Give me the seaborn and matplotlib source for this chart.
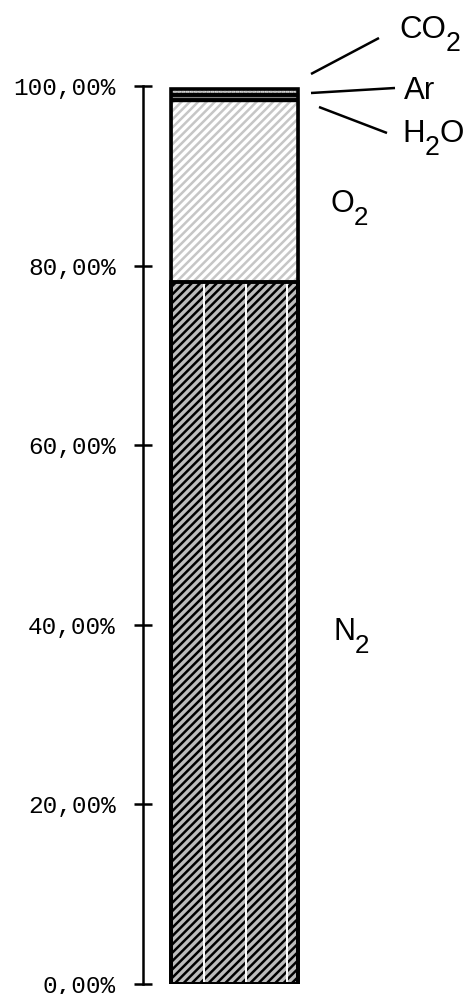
import matplotlib
matplotlib.use("Agg")
import matplotlib.pyplot as plt
import seaborn as sns
import numpy as np
import pandas as pd
from matplotlib.patches import Rectangle

# ---- data ----
gases = ["N2", "O2", "H2O", "Ar", "CO2"]
shares = [78.2, 20.1, 0.45, 0.45, 0.5]
category = ["Luft"]
tick_values = [0, 20, 40, 60, 80, 100]
tick_labels = ["0,00%", "20,00%", "40,00%", "60,00%", "80,00%", "100,00%"]

# ---- styles ----
face_colors = {"N2": "#bcbcbc", "O2": "#ffffff", "H2O": "#000000", "Ar": "#000000", "CO2": "#9a9a9a"}
hatch_colors = {"N2": "#000000", "O2": "#c6c6c6", "H2O": "#000000", "Ar": "#000000", "CO2": "#e4e4e4"}
hatches = {"N2": "////", "O2": "////", "H2O": None, "Ar": None, "CO2": "...."}
outline_lw = {"N2": 2.8, "O2": 1.0, "H2O": 0.8, "Ar": 1.0, "CO2": 2.6}
outline_col = {"N2": "black", "O2": "black", "H2O": "#808080", "Ar": "black", "CO2": "black"}

sns.set_style("white")
plt.rcParams["font.family"] = ["Liberation Sans", "DejaVu Sans"]
plt.rcParams["text.color"] = "black"
plt.rcParams["hatch.linewidth"] = 1.8

W, H = 472, 994
fig = plt.figure(figsize=(W / 100, H / 100), dpi=100)
ax = fig.add_axes([143 / W, (H - 984) / H, (W - 143) / W, (984 - 86) / H])

cum = np.cumsum(shares)
df = pd.DataFrame({"gas": gases, "share": shares, "top": cum})

bar_width = 0.8
layer_patches = {}
for gas, top in zip(df["gas"][::-1], df["top"][::-1]):
    n_before = len(ax.patches)
    sns.barplot(x=category, y=[top], color=face_colors[gas], saturation=1,
                width=bar_width, ax=ax)
    p = ax.patches[n_before]
    p.set_facecolor(face_colors[gas])
    p.set_edgecolor(hatch_colors[gas])
    p.set_linewidth(0)
    if hatches[gas]:
        p.set_hatch(hatches[gas])
    layer_patches[gas] = p

# white seams inside the N2 block
n2 = layer_patches["N2"]
bx, bw = n2.get_x(), n2.get_width()
ax.vlines([bx + bw * f for f in (0.26, 0.59, 0.915)], 0, df["top"].iloc[0],
          colors="white", linewidth=1.4, zorder=3)

# outlines: thin internal ones first, thick ones last
for gas in ["H2O", "Ar", "O2", "N2", "CO2"]:
    p = layer_patches[gas]
    ax.add_patch(Rectangle((p.get_x(), p.get_y()), p.get_width(), p.get_height(),
                           fill=False, edgecolor=outline_col[gas],
                           linewidth=outline_lw[gas], zorder=4))

unit = 127 / bar_width
ax.set_xlim(-(234.5 - 143) / unit, (W - 234.5) / unit)
ax.set_ylim(0, 100)
ax.set_xticks([])
ax.set_xlabel("")
ax.set_ylabel("")
for s in ["top", "right", "bottom"]:
    ax.spines[s].set_visible(False)
ax.spines["left"].set_linewidth(1.8)
ax.spines["left"].set_color("black")
ax.set_yticks(tick_values)
ax.set_yticklabels(tick_labels, family=["Liberation Mono", "DejaVu Sans Mono"], fontsize=17.6)
ax.tick_params(axis="y", left=True, direction="inout", length=13, width=1.8, pad=13,
               colors="black", labelcolor="black")


def px_to_data(px, py):
    return (px - 234.5) / unit, (984 - py) / 8.98


def chem_label(parts, px, py, size):
    x, y = px_to_data(px, py)
    prev = None
    for txt, sub in parts:
        fs = size * 0.85 if sub else size
        dy = -0.42 * size if sub else 0
        if prev is None:
            prev = ax.text(x, y, txt, fontsize=fs, va="baseline", ha="left",
                           color="black", clip_on=False)
        else:
            prev = ax.annotate(txt, xy=(1, y), xycoords=(prev, "data"),
                               xytext=(0, dy), textcoords="offset points",
                               fontsize=fs, va="baseline", ha="left", color="black",
                               annotation_clip=False)


chem_label([("CO", False), ("2", True)], 399, 38, 22.5)
chem_label([("Ar", False)], 404, 99, 22.5)
chem_label([("H", False), ("2", True), ("O", False)], 402, 142, 22.5)
chem_label([("O", False), ("2", True)], 330, 212, 22)
chem_label([("N", False), ("2", True)], 333, 640, 22)

for (x0, y0), (x1, y1) in [((311, 74), (379, 38)), ((311, 93), (395, 88)), ((319, 107), (387, 133))]:
    a = px_to_data(x0, y0)
    b = px_to_data(x1, y1)
    ax.plot([a[0], b[0]], [a[1], b[1]], color="black", linewidth=1.8, clip_on=False,
            solid_capstyle="butt")

fig.savefig("out.png", dpi=100)
